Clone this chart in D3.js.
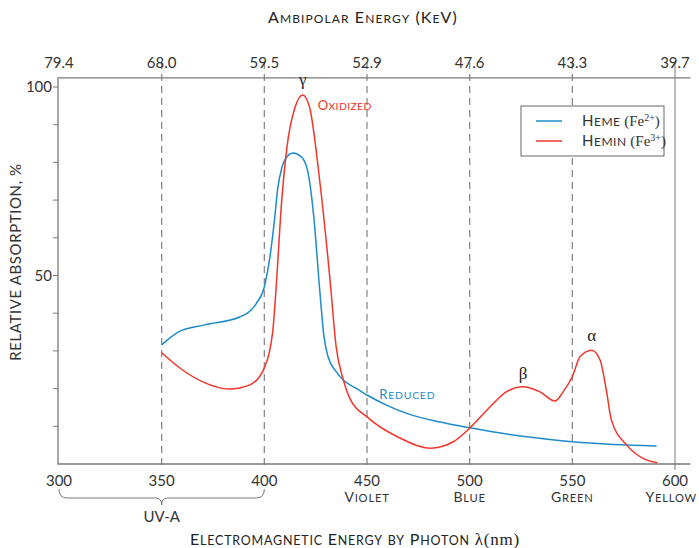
<!DOCTYPE html>
<html>
<head>
<meta charset="utf-8">
<script src="https://cdn.jsdelivr.net/npm/d3@7"></script>
<style>
  body { margin: 0; background: #fff; }
  svg { display: block; font-family: "Lato", "DejaVu Sans", sans-serif; }
</style>
</head>
<body>
<div id="chart"></div>
<script>
// wavelength (nm) and relative absorption (%)
const hemeNm  = [350, 358, 371, 388, 396, 400, 403, 405, 406.5, 408.5, 411, 414, 418, 421, 424, 427, 429, 431, 435, 439, 445, 450, 460, 470, 485, 500, 515, 530, 550, 570, 591];
const hemeVal = [31.6, 35, 36.9, 39, 42.5, 47, 56, 65, 73, 78.5, 81.5, 82.5, 81.5, 78, 66, 46, 34, 28.5, 24.5, 22, 20, 18.3, 15.5, 13.3, 11.2, 9.6, 8.2, 7.1, 5.9, 5.2, 4.8];

const heminNm  = [350, 360, 370, 383, 393, 400, 404, 406, 408, 411, 415, 418.7, 422, 427, 432, 435, 438.5, 442, 450, 466, 481, 492, 500, 510, 518, 526, 534, 541.5, 545.6, 550, 553.8, 559.4, 563.5, 566.8, 569, 576.5, 584, 591.5];
const heminVal = [29.5, 25, 21.8, 19.9, 21, 25.5, 34.7, 48.8, 66.5, 84, 94.7, 97.9, 94.7, 75, 48.8, 31, 22.3, 17, 12.5, 6.9, 4.2, 5.9, 9.5, 15.2, 19.2, 20.5, 19.2, 16.7, 19.2, 23.2, 28.5, 30.2, 27.6, 18.8, 11.7, 5, 1.6, 0.3];

const bottomTicks = [300, 350, 400, 450, 500, 550, 600];
const topTickLabels = ["79.4", "68.0", "59.5", "52.9", "47.6", "43.3", "39.7"];
const colourNames = [[450, "Violet"], [500, "Blue"], [550, "Green"], [600, "Yellow"]];
const dashedNm = [350, 400, 450, 500, 550];
const yMajor = [50, 100];
const yMinor = [10, 20, 30, 40, 60, 70, 80, 90];

const width = 699, height = 548;
const blue = "#1e8bcc", red = "#f2352a", grey = "#7a7a7a";
const serif = "Liberation Serif, DejaVu Serif, serif";

const x = d3.scaleLinear().domain([300, 600]).range([59, 675]);
const y = d3.scaleLinear().domain([0, 100]).range([464, 87]);
const xEnd = x(607.5), yTop = y(102.4);

const svg = d3.select("#chart").append("svg")
  .attr("width", width).attr("height", height);

// small caps by hand: lowercase runs set as smaller capitals
function smallCaps(sel, str, size, ratio = 0.8) {
  str.match(/[a-z]+|[^a-z]+/g).forEach(r => {
    sel.append("tspan")
      .attr("font-size", /[a-z]/.test(r) ? size * ratio : size)
      .text(r.toUpperCase());
  });
  return sel;
}
// stretch a text to the width it has in the picture
function fitWidth(sel, target) {
  const node = sel.node();
  const n = node.textContent.length;
  const len = node.getComputedTextLength();
  sel.attr("letter-spacing", ((target - len) / n).toFixed(2));
}

// dashed guides
svg.append("g").selectAll("line").data(dashedNm).join("line")
  .attr("x1", d => x(d)).attr("x2", d => x(d))
  .attr("y1", 62).attr("y2", 470)
  .attr("stroke", "#8a8a8a").attr("stroke-width", 1.3)
  .attr("stroke-dasharray", "7,5");

// solid line at 600
svg.append("line")
  .attr("x1", x(600)).attr("x2", x(600)).attr("y1", 62).attr("y2", 470)
  .attr("stroke", "#999").attr("stroke-width", 1.3);

// frame: top, left, bottom
svg.append("path")
  .attr("d", `M${xEnd},${yTop}H${x(300) - 1}V${y(0)}H${xEnd}`)
  .attr("fill", "none").attr("stroke", grey).attr("stroke-width", 1.3);

// y ticks
svg.append("g").selectAll("line").data(yMajor.concat(yMinor)).join("line")
  .attr("x1", x(300) - 6).attr("x2", x(300) - 1)
  .attr("y1", d => y(d)).attr("y2", d => y(d))
  .attr("stroke", grey);
svg.append("g").selectAll("text").data(yMajor).join("text")
  .attr("x", x(300) - 7).attr("y", d => y(d) + 5)
  .attr("text-anchor", "end").attr("font-size", 15).attr("fill", "#333")
  .text(d => d);

// top tick labels
svg.append("g").selectAll("text").data(bottomTicks).join("text")
  .attr("x", d => x(d)).attr("y", 68)
  .attr("text-anchor", "middle").attr("font-size", 15).attr("fill", "#333")
  .text((d, i) => topTickLabels[i]);

// bottom tick labels
svg.append("g").selectAll("text").data(bottomTicks).join("text")
  .attr("x", d => x(d)).attr("y", 486)
  .attr("text-anchor", "middle").attr("font-size", 15).attr("fill", "#333")
  .text(d => d);
svg.append("g").selectAll("text").data(colourNames).join("text")
  .attr("x", d => x(d[0])).attr("y", 502)
  .attr("text-anchor", "middle").attr("fill", "#333")
  .attr("letter-spacing", 0.8)
  .each(function (d) {
    smallCaps(d3.select(this), d[1], 14);
    // keep the last label inside the page
    const b = this.getBBox();
    if (b.x + b.width > width - 2) {
      d3.select(this).attr("x", x(d[0]) - (b.x + b.width - (width - 2)));
    }
  });

// brace for UV-A
const bx0 = x(300), bx1 = x(400), bm = x(350);
svg.append("path")
  .attr("d", `M${bx0},489 Q${bx0},498 ${bx0 + 8},498 H${bm - 6} Q${bm},498 ${bm},505 Q${bm},498 ${bm + 6},498 H${bx1 - 8} Q${bx1},498 ${bx1},489`)
  .attr("fill", "none").attr("stroke", "#777").attr("stroke-width", 1);
svg.append("text")
  .attr("x", bm).attr("y", 522).attr("text-anchor", "middle")
  .attr("font-size", 15).attr("fill", "#333").text("UV-A");

// titles
const tt = svg.append("text")
  .attr("x", 363).attr("y", 23).attr("text-anchor", "middle").attr("fill", "#222");
smallCaps(tt, "Ambipolar Energy (KeV)", 16, 0.75);
fitWidth(tt, 190);

const bt = svg.append("text")
  .attr("x", 355).attr("y", 545).attr("text-anchor", "middle").attr("fill", "#222");
smallCaps(bt, "Electromagnetic Energy by Photon ", 16, 0.78);
bt.append("tspan").attr("font-family", serif).attr("font-size", 17).text("λ(nm)");
fitWidth(bt, 330);

svg.append("text")
  .attr("transform", "translate(21,262) rotate(-90)")
  .attr("text-anchor", "middle").attr("font-size", 15).attr("fill", "#333")
  .attr("letter-spacing", 0.6)
  .text("RELATIVE ABSORPTION, %");

// curves
const line = d3.line()
  .x(d => x(d[0])).y(d => y(d[1]))
  .curve(d3.curveMonotoneX);
svg.append("path")
  .attr("d", line(d3.zip(hemeNm, hemeVal)))
  .attr("fill", "none").attr("stroke", blue).attr("stroke-width", 1.5);
svg.append("path")
  .attr("d", line(d3.zip(heminNm, heminVal)))
  .attr("fill", "none").attr("stroke", red).attr("stroke-width", 1.5);

// annotations
const greek = [[418.7, 100.5, "γ"], [526, 22.5, "β"], [559.4, 32.5, "α"]];
svg.append("g").selectAll("text").data(greek).join("text")
  .attr("x", d => x(d[0])).attr("y", d => y(d[1]))
  .attr("text-anchor", "middle").attr("font-size", 17).attr("fill", "#222")
  .attr("font-family", serif)
  .text(d => d[2]);
const ox = svg.append("text")
  .attr("x", x(426)).attr("y", y(94)).attr("fill", red);
smallCaps(ox, "Oxidized", 13);
fitWidth(ox, 54);
const rd = svg.append("text")
  .attr("x", x(456)).attr("y", y(17.3)).attr("fill", blue);
smallCaps(rd, "Reduced", 13);
fitWidth(rd, 56);

// legend
const lg = svg.append("g").attr("transform", "translate(521,106)");
lg.append("rect").attr("width", 143).attr("height", 50)
  .attr("fill", "#fff").attr("stroke", "#666");
const legendItems = [["Heme", "2+", blue], ["Hemin", "3+", red]];
legendItems.forEach((d, i) => {
  const yy = 15 + i * 20;
  lg.append("line").attr("x1", 15).attr("x2", 41).attr("y1", yy).attr("y2", yy)
    .attr("stroke", d[2]).attr("stroke-width", 1.5);
  const t = lg.append("text").attr("x", 61).attr("y", yy + 5).attr("fill", "#333");
  smallCaps(t, d[0], 15);
  t.attr("letter-spacing", 0.5);
  t.append("tspan").attr("font-family", serif).attr("font-size", 15).attr("letter-spacing", 0).text(" (Fe");
  t.append("tspan").attr("font-family", serif).attr("dy", -5).attr("font-size", 10).attr("letter-spacing", 0).text(d[1]);
  t.append("tspan").attr("font-family", serif).attr("dy", 5).attr("font-size", 15).text(")");
});
</script>
</body>
</html>
